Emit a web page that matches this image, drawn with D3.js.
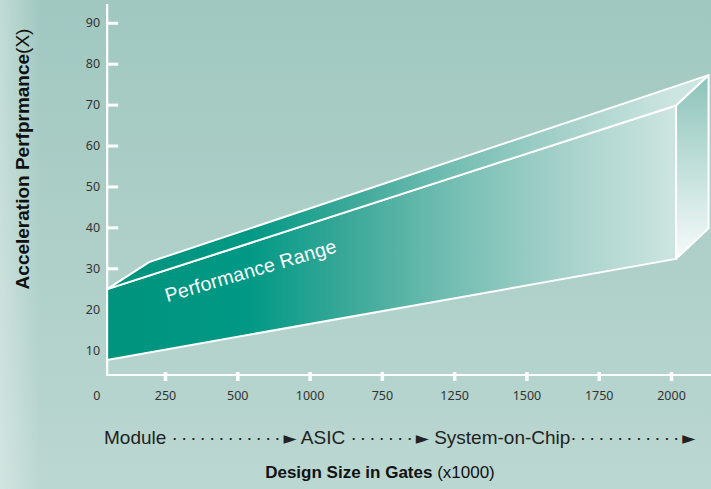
<!DOCTYPE html>
<html>
<head>
<meta charset="utf-8">
<script src="https://cdn.jsdelivr.net/npm/d3@7"></script>
<style>
  body { margin: 0; }
  svg { display: block; font-family: "Liberation Sans", Arial, sans-serif; }
  .tick text { fill: #333; font-size: 12.5px; font-family: "Noto Sans", sans-serif; }
</style>
</head>
<body>
<script>
    // tick labels (the x labels really are in this order on the original)
    var yTicks = [10, 20, 30, 40, 50, 60, 70, 80, 90];
    var xTickIdx = [1, 2, 3, 4, 5, 6, 7, 8];
    var xTickLabels = ["250", "500", "1000", "750", "1250", "1500", "1750", "2000"];
    var originLabel = "0";

    // corners of the performance range prism: [x index, acceleration]
    var frontTop = [[0.2, 24.9], [8.07, 69.8]];
    var frontBottom = [[0.2, 7.6], [8.07, 32.3]];
    var backTop = [[0.78, 31.5], [8.52, 77.2]];
    var backBottomRight = [8.52, 39.8];

    var stages = ["Module", "ASIC", "System-on-Chip"];
    var stageDots = [12, 7, 12];

    var width = 711, height = 489;

    var x = d3.scaleLinear().domain([1, 8]).range([165, 671]);
    var y = d3.scaleLinear().domain([30, 80]).range([268.3, 63.7]);

    var svg = d3.select("body").append("svg")
      .attr("width", width)
      .attr("height", height);

    var defs = svg.append("defs");

    var bg = defs.append("linearGradient").attr("id", "bg")
      .attr("x1", 0).attr("y1", 0).attr("x2", 0).attr("y2", 1);
    bg.append("stop").attr("offset", 0).attr("stop-color", "#a0c8c0");
    bg.append("stop").attr("offset", 1).attr("stop-color", "#bbd7d1");

    var bgLeft = defs.append("linearGradient").attr("id", "bgLeft")
      .attr("x1", 0).attr("y1", 0).attr("x2", 1).attr("y2", 0);
    bgLeft.append("stop").attr("offset", 0).attr("stop-color", "#ffffff").attr("stop-opacity", 0.35);
    bgLeft.append("stop").attr("offset", 1).attr("stop-color", "#ffffff").attr("stop-opacity", 0);

    var face = defs.append("linearGradient").attr("id", "face")
      .attr("gradientUnits", "userSpaceOnUse")
      .attr("x1", x(frontTop[0][0])).attr("y1", 0)
      .attr("x2", x(frontTop[1][0])).attr("y2", 0);
    [[0, "#00937d"], [0.25, "#009985"], [0.42, "#3aa898"], [0.6, "#72bdb2"],
     [0.8, "#a5d1ca"], [1, "#cde5e1"]].forEach(function(s) {
      face.append("stop").attr("offset", s[0]).attr("stop-color", s[1]);
    });

    var side = defs.append("linearGradient").attr("id", "side")
      .attr("gradientUnits", "userSpaceOnUse")
      .attr("x1", 0).attr("y1", y(backTop[1][1]))
      .attr("x2", 0).attr("y2", y(frontBottom[1][1]));
    side.append("stop").attr("offset", 0).attr("stop-color", "#8cc3ba");
    side.append("stop").attr("offset", 1).attr("stop-color", "#f6fbfa");

    svg.append("rect").attr("width", width).attr("height", height).attr("fill", "url(#bg)");
    svg.append("rect").attr("width", 40).attr("height", height).attr("fill", "url(#bgLeft)");

    //y axis
    var yAxis = svg.append("g")
      .attr("transform", "translate(" + x(frontTop[0][0]) + ",0)")
      .call(d3.axisLeft(y).tickValues(yTicks).tickSizeInner(-11).tickSizeOuter(0).tickPadding(7));
    yAxis.select(".domain").remove();
    yAxis.selectAll(".tick line").attr("stroke", "#fff").attr("stroke-width", 3);

    //x axis
    var xAxis = svg.append("g")
      .attr("transform", "translate(0,374)")
      .call(d3.axisBottom(x).tickValues(xTickIdx)
        .tickFormat(function(d, i) { return xTickLabels[i]; })
        .tickSizeInner(7).tickSizeOuter(0).tickPadding(10));
    xAxis.select(".domain").remove();
    xAxis.selectAll(".tick line").attr("stroke", "#fff").attr("stroke-width", 3.5)
      .attr("y1", -2);
    xAxis.append("text")
      .attr("x", x(0) + 4).attr("y", 17).attr("dy", "0.71em")
      .attr("text-anchor", "middle")
      .style("font-size", "12.5px").style("font-family", "Noto Sans, sans-serif")
      .attr("fill", "#333")
      .text(originLabel);

    // axis lines
    var axisLine = d3.line();
    svg.append("path")
      .attr("d", axisLine([[x(frontTop[0][0]), 4], [x(frontTop[0][0]), 375], [width, 375]]))
      .attr("fill", "none").attr("stroke", "#fff").attr("stroke-width", 2.2);

    // prism
    function pt(p) { return [x(p[0]), y(p[1])]; }
    var poly = function(pts) { return "M" + pts.map(pt).join("L") + "Z"; };

    svg.append("path")
      .attr("d", poly([frontTop[0], frontTop[1], frontBottom[1], frontBottom[0]]))
      .attr("fill", "url(#face)").attr("stroke", "#fff").attr("stroke-width", 2)
      .attr("stroke-linejoin", "round");
    svg.append("path")
      .attr("d", poly([frontTop[0], backTop[0], backTop[1], frontTop[1]]))
      .attr("fill", "url(#face)").attr("stroke", "#fff").attr("stroke-width", 2)
      .attr("stroke-linejoin", "round");
    svg.append("path")
      .attr("d", poly([frontTop[1], backTop[1], backBottomRight, frontBottom[1]]))
      .attr("fill", "url(#side)").attr("stroke", "#fff").attr("stroke-width", 2)
      .attr("stroke-linejoin", "round");

    // label along the front face
    var p0 = pt(frontTop[0]), p1 = pt(frontTop[1]);
    var ang = Math.atan2(p1[1] - p0[1], p1[0] - p0[0]) * 180 / Math.PI + 1.5;
    svg.append("text")
      .attr("transform", "translate(" + x(1.03) + "," + (y(frontTop[0][1]) + 13) + ") rotate(" + ang + ")")
      .attr("fill", "#fff")
      .style("font-size", "19.5px")
      .style("letter-spacing", "0.2px")
      .text("Performance Range");

    // y title
    var yt = svg.append("text")
      .attr("transform", "translate(29,159) rotate(-90)")
      .attr("text-anchor", "middle")
      .attr("fill", "#111")
      .style("font-size", "19px");
    yt.append("tspan").style("font-weight", "bold").text("Acceleration Perfprmance");
    yt.append("tspan").text("(X)");

    // stage row
    var row = svg.append("text")
      .attr("x", 104).attr("y", 444)
      .attr("fill", "#222")
      .style("font-size", "19px");
    stages.forEach(function(s, i) {
      row.append("tspan").text((i > 0 ? " " : "") + s + (i < 2 ? " " : ""));
      row.append("tspan").style("letter-spacing", "3px").text(d3.range(stageDots[i]).map(function() { return "\u00b7"; }).join(""));
      row.append("tspan").style("font-family", "DejaVu Sans").style("font-size", "17px").text("\u25ba");
    });

    // x title
    var xt = svg.append("text")
      .attr("x", 380).attr("y", 478)
      .attr("text-anchor", "middle")
      .attr("fill", "#111")
      .style("font-size", "17px");
    xt.append("tspan").style("font-weight", "bold").text("Design Size in Gates");
    xt.append("tspan").text(" (x1000)");
</script>
</body>
</html>
